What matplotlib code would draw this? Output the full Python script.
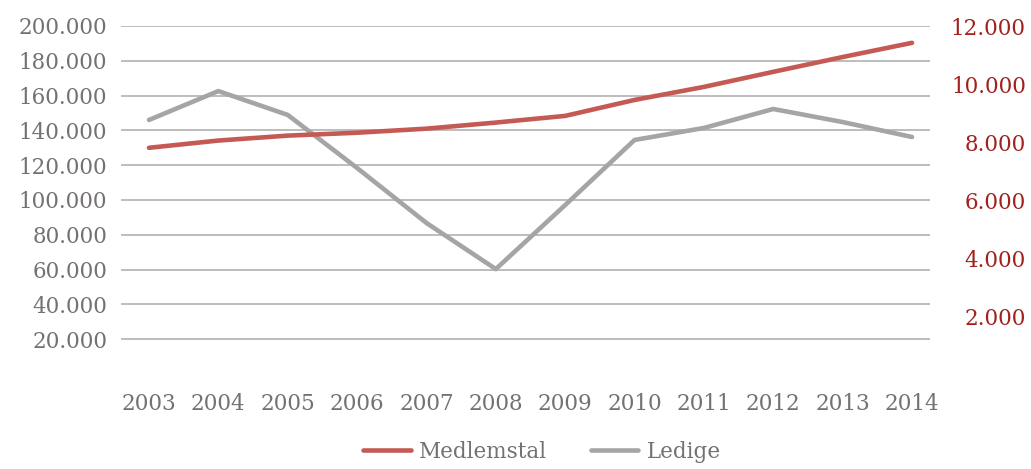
import matplotlib
matplotlib.use("Agg")
import matplotlib.pyplot as plt
from matplotlib.ticker import FuncFormatter

# data
years = [2003, 2004, 2005, 2006, 2007, 2008, 2009, 2010, 2011, 2012, 2013, 2014]
ledige = [146000, 162600, 148900, 118400, 86800, 60300, 97100, 134500, 141400, 152300, 144800, 136200]
medlemstal = [7800, 8050, 8220, 8320, 8460, 8670, 8900, 9450, 9900, 10420, 10930, 11420]

left_ticks = [20000, 40000, 60000, 80000, 100000, 120000, 140000, 160000, 180000, 200000]
right_ticks = [2000, 4000, 6000, 8000, 10000, 12000]

RED = "#C55A55"
GREY_LINE = "#A5A5A5"
GRID = "#B2B2B2"
LEFT_TXT = "#767171"
RIGHT_TXT = "#A0221E"
FONT = "DejaVu Serif"
FS = 15.5


def dk(v, pos=None):
	# Danish thousands separator
	return f"{int(v):,}".replace(",", ".")


fig = plt.figure(figsize=(10.31, 4.69), dpi=100)
ax = fig.add_axes([121 / 1031, 95 / 469, 809 / 1031, 348 / 469])
ax2 = ax.twinx()

ax.plot(years, ledige, color=GREY_LINE, lw=3.3, solid_capstyle="round", solid_joinstyle="round", label="Ledige", zorder=3)
ax2.plot(years, medlemstal, color=RED, lw=3.3, solid_capstyle="round", solid_joinstyle="round", label="Medlemstal", zorder=3)

ax.set_xlim(2003 - 28 / 69.4, 2014 + 18 / 69.4)
ax.set_ylim(0, 200000)
ax2.set_ylim(0, 12000)

ax.set_xticks(years)
ax.set_xticklabels([str(y) for y in years], fontsize=FS, family=FONT, color=LEFT_TXT)
ax.set_yticks(left_ticks)
ax.yaxis.set_major_formatter(FuncFormatter(dk))
ax2.set_yticks(right_ticks)
ax2.yaxis.set_major_formatter(FuncFormatter(dk))

ax.tick_params(axis="x", length=0, pad=14)
ax.tick_params(axis="y", length=0, pad=10, labelsize=FS, labelcolor=LEFT_TXT)
ax2.tick_params(axis="y", length=0, pad=69, labelsize=FS, labelcolor=RIGHT_TXT)
for lbl in ax.get_yticklabels():
	lbl.set_family(FONT)
for lbl in ax2.get_yticklabels():
	lbl.set_family(FONT)
	lbl.set_horizontalalignment("right")

ax.grid(True, axis="y", color=GRID, lw=1.2)
ax.set_axisbelow(True)
for a in (ax, ax2):
	for s in a.spines.values():
		s.set_visible(False)

h1, l1 = ax2.get_legend_handles_labels()
h2, l2 = ax.get_legend_handles_labels()
fig.legend(h1 + h2, l1 + l2, loc="center", bbox_to_anchor=(542 / 1031, 1 - 452 / 469),
	ncol=2, frameon=False, prop={"family": FONT, "size": FS}, labelcolor=LEFT_TXT,
	handlelength=2.2, handletextpad=0.4, columnspacing=2.0)

fig.savefig("out.png", dpi=100)
